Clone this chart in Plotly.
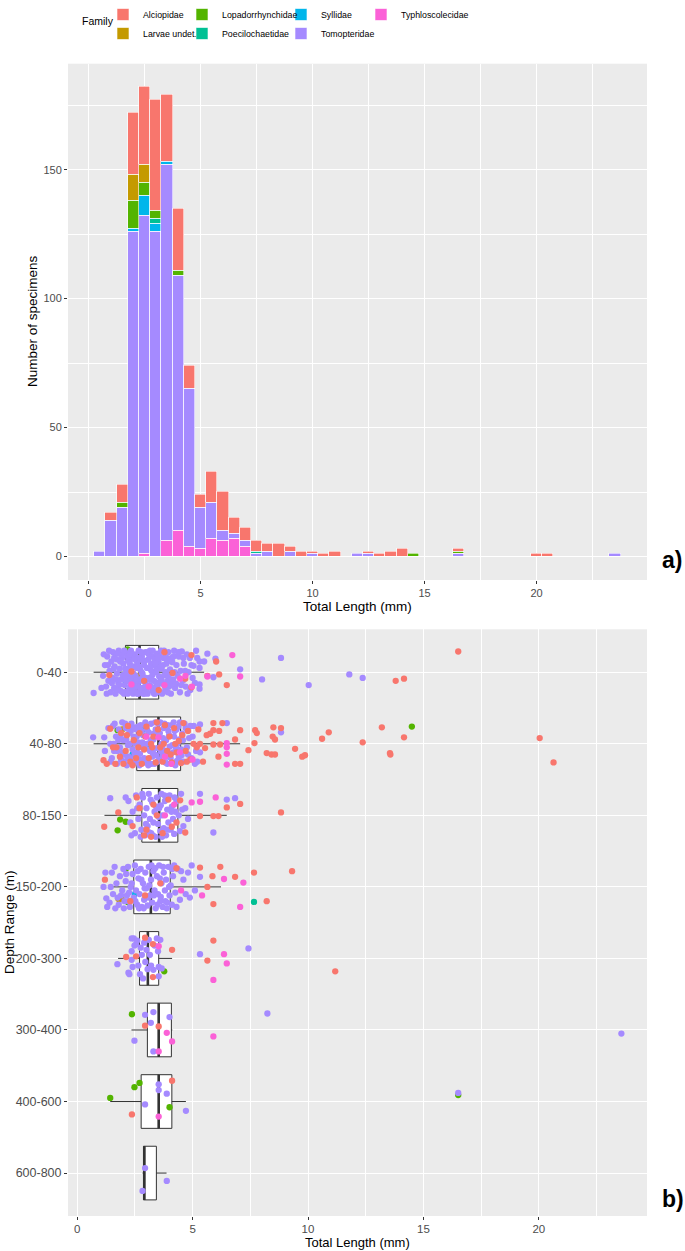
import plotly.graph_objects as go

FONT = "Liberation Sans, Arial, sans-serif"
W, H = 685, 1251

families = ["Alciopidae", "Larvae undet.", "Lopadorrhynchidae", "Poecilochaetidae",
            "Syllidae", "Tomopteridae", "Typhloscolecidae"]
colors = {"Alciopidae": "#F8766D", "Larvae undet.": "#C49A00", "Lopadorrhynchidae": "#53B400",
          "Poecilochaetidae": "#00C094", "Syllidae": "#00B6EB", "Tomopteridae": "#A58AFF",
          "Typhloscolecidae": "#FB61D7"}

# ---------------- panel a) histogram (bin width 0.5 mm) ----------------
bin_centers = [0.5, 1.0, 1.5, 2.0, 2.5, 3.0, 3.5, 4.0, 4.5, 5.0, 5.5, 6.0, 6.5, 7.0, 7.5, 8.0,
               8.5, 9.0, 9.5, 10.0, 10.5, 11.0, 12.0, 12.5, 13.0, 13.5, 14.0, 14.5, 16.5, 20.0, 20.5, 23.5]
cnt_alciopidae = [0, 3, 7, 24, 30, 43, 26, 24, 9, 5, 12, 15, 6, 5, 4, 3, 5, 2, 2, 1, 1, 2, 0, 1, 1, 2, 3, 0, 1, 1, 1, 0]
cnt_larvae = [0, 0, 0, 10, 7, 0, 0, 0, 0, 0, 0, 0, 0, 0, 0, 0, 0, 0, 0, 0, 0, 0, 0, 0, 0, 0, 0, 0, 0, 0, 0, 0]
cnt_lopadorrhynchidae = [0, 0, 2, 11, 5, 3, 0, 2, 0, 0, 0, 0, 0, 0, 0, 0, 0, 0, 0, 0, 0, 0, 0, 0, 0, 0, 0, 1, 1, 0, 0, 0]
cnt_poecilochaetidae = [0, 0, 0, 0, 0, 2, 0, 0, 0, 0, 0, 0, 0, 0, 1, 0, 0, 0, 0, 0, 0, 0, 0, 0, 0, 0, 0, 0, 0, 0, 0, 0]
cnt_syllidae = [0, 0, 0, 1, 8, 3, 1, 0, 0, 0, 0, 0, 0, 0, 0, 0, 0, 0, 0, 0, 0, 0, 0, 0, 0, 0, 0, 0, 0, 0, 0, 0]
cnt_tomopteridae = [2, 14, 19, 126, 131, 126, 146, 99, 61, 16, 14, 4, 2, 2, 1, 2, 0, 2, 0, 1, 0, 0, 1, 1, 0, 0, 0, 0, 1, 0, 0, 1]
cnt_typhloscolecidae = [0, 0, 0, 0, 1, 0, 6, 10, 4, 3, 7, 6, 7, 4, 0, 0, 0, 0, 0, 0, 0, 0, 0, 0, 0, 0, 0, 0, 0, 0, 0, 0]
bin_width = 0.5

counts = {"Alciopidae": cnt_alciopidae, "Larvae undet.": cnt_larvae,
          "Lopadorrhynchidae": cnt_lopadorrhynchidae, "Poecilochaetidae": cnt_poecilochaetidae,
          "Syllidae": cnt_syllidae, "Tomopteridae": cnt_tomopteridae,
          "Typhloscolecidae": cnt_typhloscolecidae}

# ---------------- panel b) box plot + jittered points ----------------
depth_labels = ["0-40", "40-80", "80-150", "150-200", "200-300", "300-400", "400-600", "600-800"]
box_q1 = [2.09, 2.58, 2.80, 2.45, 2.70, 3.04, 2.77, 2.87]
box_median = [2.70, 3.52, 3.55, 3.19, 3.06, 3.53, 3.53, 2.91]
box_q3 = [3.53, 4.48, 4.36, 4.03, 3.53, 4.08, 4.10, 3.43]
box_low = [0.71, 0.71, 1.18, 1.43, 1.77, 2.35, 1.43, 2.83]
box_high = [5.50, 7.06, 6.48, 6.23, 4.11, 4.12, 4.71, 3.87]

# points: (depth row, total length mm, vertical jitter in row units)
pts_tomopteridae = [
    # 0-40
    (0, 0.71, 0.29), (0, 1.12, 0.05), (0, 1.2, -0.1), (0, 1.25, 0.2), (0, 1.3, -0.22), (0, 1.35, 0.12),
    (0, 1.4, -0.02), (0, 1.45, 0.28), (0, 1.48, -0.15), (0, 1.52, 0.08), (0, 1.55, -0.28), (0, 1.6, 0.22),
    (0, 1.62, -0.08), (0, 1.66, 0.3), (0, 1.7, -0.18), (0, 1.72, 0.02), (0, 1.78, 0.15), (0, 1.8, -0.3),
    (0, 1.84, -0.05), (0, 1.88, 0.26), (0, 1.9, 0.1), (0, 1.94, -0.2), (0, 1.98, 0.04), (0, 2.0, -0.12),
    (0, 2.03, 0.3), (0, 2.06, 0.18), (0, 2.1, -0.27), (0, 2.12, 0.0), (0, 2.16, 0.12), (0, 2.2, -0.16),
    (0, 2.22, 0.25), (0, 2.26, -0.05), (0, 2.3, 0.2), (0, 2.33, -0.3), (0, 2.36, 0.08), (0, 2.4, -0.2),
    (0, 2.42, 0.3), (0, 2.45, -0.08), (0, 2.48, 0.15), (0, 2.5, -0.25), (0, 2.53, 0.05), (0, 2.56, 0.28),
    (0, 2.6, -0.14), (0, 2.62, 0.18), (0, 2.66, -0.3), (0, 2.7, 0.1), (0, 2.72, -0.04), (0, 2.76, 0.24),
    (0, 2.8, -0.22), (0, 2.83, 0.02), (0, 2.86, 0.3), (0, 2.9, -0.1), (0, 2.93, 0.14), (0, 2.96, -0.28),
    (0, 2.99, 0.22), (0, 3.02, -0.06), (0, 3.05, 0.3), (0, 3.08, -0.18), (0, 3.12, 0.08), (0, 3.15, -0.3),
    (0, 3.18, 0.2), (0, 3.22, -0.02), (0, 3.25, 0.26), (0, 3.28, -0.22), (0, 3.32, 0.12), (0, 3.35, -0.1),
    (0, 3.38, 0.3), (0, 3.42, 0.0), (0, 3.45, -0.26), (0, 3.48, 0.18), (0, 3.52, -0.15), (0, 3.55, 0.06),
    (0, 3.6, 0.28), (0, 3.63, -0.3), (0, 3.66, -0.05), (0, 3.7, 0.16), (0, 3.74, -0.2), (0, 3.78, 0.04),
    (0, 3.82, 0.25), (0, 3.86, -0.12), (0, 3.9, 0.12), (0, 3.95, -0.28), (0, 3.98, 0.2), (0, 4.02, -0.04),
    (0, 4.06, 0.3), (0, 4.1, -0.2), (0, 4.15, 0.1), (0, 4.2, -0.3), (0, 4.24, 0.22), (0, 4.3, -0.1),
    (0, 4.35, 0.05), (0, 4.4, -0.22), (0, 4.45, 0.28), (0, 4.48, -0.02), (0, 4.53, -0.29), (0, 4.58, 0.12),
    (0, 4.62, -0.12), (0, 4.7, 0.2), (0, 4.75, -0.25), (0, 4.82, 0.0), (0, 4.9, 0.25), (0, 4.95, -0.1),
    (0, 5.04, -0.09), (0, 5.1, 0.15), (0, 5.2, -0.2), (0, 5.3, -0.15), (0, 5.3, -0.06), (0, 5.3, 0.23),
    (0, 5.3, 0.17), (0, 5.5, -0.15), (0, 5.64, -0.26), (0, 5.99, -0.19), (0, 5.9, 0.07), (0, 7.06, -0.04),
    (0, 8.01, 0.1), (0, 8.83, -0.2), (0, 10.03, 0.18), (0, 11.79, 0.03), (0, 12.37, 0.08),
    (0, 1.82, 0.18), (0, 1.92, -0.25), (0, 2.02, 0.1), (0, 2.08, -0.05), (0, 2.14, 0.27), (0, 2.18, -0.22),
    (0, 2.24, 0.05), (0, 2.28, -0.12), (0, 2.34, 0.16), (0, 2.38, -0.25), (0, 2.44, 0.02), (0, 2.52, 0.2),
    (0, 2.58, -0.06), (0, 2.64, 0.3), (0, 2.68, -0.2), (0, 2.74, 0.12), (0, 2.78, -0.28), (0, 2.84, 0.06),
    (0, 2.88, 0.22), (0, 2.94, -0.16), (0, 3.0, 0.28), (0, 3.04, 0.1), (0, 3.1, -0.25), (0, 3.14, 0.18),
    (0, 3.2, -0.12), (0, 3.26, 0.04), (0, 3.3, 0.22), (0, 3.36, -0.18), (0, 3.4, 0.14), (0, 3.46, -0.05),
    (0, 3.5, 0.27), (0, 3.58, -0.22), (0, 3.64, 0.1), (0, 3.72, -0.1), (0, 3.8, 0.2), (0, 3.88, -0.2),
    (0, 3.96, 0.05), (0, 4.04, 0.18), (0, 4.12, -0.14), (0, 4.22, 0.0),
    (0, 1.15, -0.25), (0, 1.28, 0.3), (0, 1.38, -0.3), (0, 1.5, 0.15), (0, 1.58, -0.05), (0, 1.68, 0.1),
    (0, 1.75, -0.26), (0, 1.86, -0.15), (0, 1.96, 0.28), (0, 2.04, -0.3), (0, 2.1, 0.06), (0, 2.19, 0.3),
    (0, 2.27, -0.25), (0, 2.32, -0.08), (0, 2.4, 0.22), (0, 2.47, -0.18), (0, 2.55, 0.12), (0, 2.6, 0.3),
    (0, 2.67, -0.08), (0, 2.73, 0.22), (0, 2.79, 0.0), (0, 2.85, -0.16), (0, 2.91, 0.3), (0, 2.97, 0.08),
    (0, 3.03, -0.28), (0, 3.09, 0.2), (0, 3.16, -0.05), (0, 3.21, 0.1), (0, 3.27, -0.3), (0, 3.33, 0.3),
    (0, 3.39, -0.12), (0, 3.44, 0.22), (0, 3.5, -0.2), (0, 3.56, 0.15), (0, 3.62, -0.08), (0, 3.68, 0.3),
    (0, 3.76, -0.3), (0, 3.84, 0.0), (0, 3.92, 0.28), (0, 4.0, -0.16), (0, 4.08, 0.12), (0, 4.18, -0.22),
    (0, 4.28, 0.16), (0, 4.38, -0.28), (0, 4.5, 0.18), (0, 4.6, -0.2), (0, 4.68, -0.02), (0, 4.78, 0.3),
    (0, 4.88, -0.2), (0, 5.0, 0.08), (0, 5.15, -0.3), (0, 1.33, -0.1), (0, 1.05, 0.22), (0, 1.6, -0.2),
    (0, 1.74, 0.25),
    # 40-80
    (1, 0.69, -0.09), (1, 1.17, -0.09), (1, 1.43, 0.0), (1, 1.5, 0.2), (1, 1.55, -0.25), (1, 1.6, 0.1),
    (1, 1.68, -0.1), (1, 1.72, 0.28), (1, 1.8, -0.2), (1, 1.85, 0.05), (1, 1.9, 0.22), (1, 1.95, -0.3),
    (1, 2.0, -0.05), (1, 2.05, 0.15), (1, 2.1, -0.22), (1, 2.15, 0.3), (1, 2.2, 0.02), (1, 2.25, -0.15),
    (1, 2.3, 0.2), (1, 2.35, -0.28), (1, 2.4, 0.08), (1, 2.45, -0.1), (1, 2.5, 0.26), (1, 2.55, -0.2),
    (1, 2.6, 0.12), (1, 2.65, -0.02), (1, 2.7, 0.3), (1, 2.75, -0.26), (1, 2.8, 0.05), (1, 2.85, -0.12),
    (1, 2.9, 0.2), (1, 2.95, -0.3), (1, 3.0, 0.0), (1, 3.05, 0.24), (1, 3.1, -0.16), (1, 3.15, 0.1),
    (1, 3.2, -0.28), (1, 3.25, 0.18), (1, 3.3, -0.06), (1, 3.35, 0.28), (1, 3.4, -0.2), (1, 3.45, 0.06),
    (1, 3.5, -0.12), (1, 3.55, 0.22), (1, 3.6, -0.3), (1, 3.65, 0.0), (1, 3.7, 0.16), (1, 3.75, -0.22),
    (1, 3.8, 0.1), (1, 3.85, -0.05), (1, 3.9, 0.28), (1, 3.95, -0.18), (1, 4.0, 0.04), (1, 4.05, 0.2),
    (1, 4.1, -0.26), (1, 4.15, 0.12), (1, 4.2, -0.1), (1, 4.25, 0.3), (1, 4.3, -0.2), (1, 4.35, 0.0),
    (1, 4.4, 0.18), (1, 4.45, -0.3), (1, 4.5, 0.08), (1, 4.55, -0.14), (1, 4.6, 0.25), (1, 4.7, -0.22),
    (1, 4.75, 0.05), (1, 4.85, -0.08), (1, 4.95, 0.2), (1, 5.05, -0.25), (1, 5.15, 0.1), (1, 5.32, -0.27),
    (1, 5.32, 0.12), (1, 6.48, -0.29), (1, 8.83, -0.16),
    (1, 1.62, -0.28), (1, 1.75, 0.1), (1, 1.88, -0.12), (1, 2.02, 0.25), (1, 2.12, -0.06), (1, 2.22, 0.18),
    (1, 2.32, -0.18), (1, 2.42, 0.28), (1, 2.52, 0.0), (1, 2.62, -0.24), (1, 2.72, 0.14), (1, 2.82, -0.02),
    (1, 2.92, 0.26), (1, 3.02, -0.2), (1, 3.12, 0.08), (1, 3.22, 0.28), (1, 3.32, -0.14), (1, 3.42, 0.16),
    (1, 3.52, -0.28), (1, 3.62, 0.1), (1, 3.72, -0.08), (1, 3.82, 0.26), (1, 3.92, -0.26), (1, 4.02, 0.14),
    (1, 4.12, 0.02), (1, 4.22, -0.18), (1, 4.32, 0.24), (1, 4.42, -0.06), (1, 4.52, 0.16), (1, 4.65, -0.28),
    (1, 4.8, 0.15), (1, 5.0, -0.1), (1, 5.2, 0.25),
    (1, 1.2, 0.1), (1, 1.35, -0.22), (1, 1.45, 0.25), (1, 1.58, 0.0), (1, 1.78, -0.05), (1, 1.98, 0.12),
    (1, 2.08, -0.28), (1, 2.18, 0.2), (1, 2.28, 0.0), (1, 2.38, -0.24), (1, 2.48, 0.14), (1, 2.58, -0.1),
    (1, 2.68, 0.22), (1, 2.78, -0.18), (1, 2.88, 0.05), (1, 2.98, -0.25), (1, 3.08, 0.3), (1, 3.18, -0.05),
    (1, 3.28, 0.12), (1, 3.38, -0.3), (1, 3.48, 0.25), (1, 3.58, -0.15), (1, 3.68, 0.05), (1, 3.78, -0.28),
    (1, 3.88, 0.18), (1, 3.98, -0.12), (1, 4.08, 0.28), (1, 4.18, -0.3), (1, 4.28, 0.06), (1, 4.38, -0.24),
    (1, 4.48, 0.25), (1, 4.58, -0.05), (1, 4.9, -0.25), (1, 5.1, 0.28),
    # 80-150
    (2, 1.43, -0.24), (2, 2.22, -0.2), (2, 2.3, 0.1), (2, 2.4, -0.05), (2, 2.5, 0.25), (2, 2.55, -0.28),
    (2, 2.65, 0.05), (2, 2.7, -0.15), (2, 2.78, 0.2), (2, 2.85, -0.25), (2, 2.9, 0.0), (2, 2.95, 0.28),
    (2, 3.0, -0.1), (2, 3.05, 0.15), (2, 3.1, -0.3), (2, 3.15, 0.05), (2, 3.2, 0.25), (2, 3.25, -0.18),
    (2, 3.3, 0.1), (2, 3.35, -0.05), (2, 3.4, 0.3), (2, 3.45, -0.25), (2, 3.5, 0.12), (2, 3.55, -0.1),
    (2, 3.6, 0.22), (2, 3.65, -0.3), (2, 3.7, 0.0), (2, 3.75, 0.18), (2, 3.8, -0.2), (2, 3.85, 0.28),
    (2, 3.9, -0.08), (2, 3.95, 0.1), (2, 4.0, -0.28), (2, 4.05, 0.2), (2, 4.1, -0.12), (2, 4.15, 0.05),
    (2, 4.2, 0.26), (2, 4.3, -0.2), (2, 4.4, 0.0), (2, 4.5, -0.3), (2, 4.6, 0.15), (2, 4.68, -0.1),
    (2, 4.8, 0.05), (2, 5.32, -0.3), (2, 5.9, 0.24), (2, 6.48, -0.22), (2, 6.84, -0.24), (2, 2.1, -0.25),
    (2, 3.12, 0.24), (2, 3.62, -0.14), (2, 4.25, -0.05),
    (2, 2.35, 0.28), (2, 2.6, -0.1), (2, 2.75, 0.3), (2, 2.82, -0.3), (2, 2.98, 0.12), (2, 3.18, -0.22),
    (2, 3.28, 0.28), (2, 3.42, -0.12), (2, 3.52, 0.02), (2, 3.68, 0.3), (2, 3.78, -0.28), (2, 3.92, 0.2),
    (2, 4.08, -0.05), (2, 4.22, -0.25), (2, 4.45, 0.22), (2, 4.55, -0.08),
    # 150-200
    (3, 1.14, 0.0), (3, 1.26, 0.16), (3, 1.3, 0.28), (3, 1.4, 0.22), (3, 1.5, -0.2), (3, 1.55, 0.1),
    (3, 1.62, -0.28), (3, 1.7, -0.05), (3, 1.8, 0.25), (3, 1.85, -0.15), (3, 1.95, 0.05), (3, 2.0, -0.25),
    (3, 2.05, 0.2), (3, 2.1, -0.08), (3, 2.15, 0.12), (3, 2.2, -0.28), (3, 2.28, 0.28), (3, 2.32, 0.0),
    (3, 2.4, -0.18), (3, 2.45, 0.15), (3, 2.5, -0.3), (3, 2.55, 0.05), (3, 2.6, 0.25), (3, 2.65, -0.12),
    (3, 2.7, 0.1), (3, 2.75, -0.25), (3, 2.8, 0.28), (3, 2.85, -0.05), (3, 2.9, 0.18), (3, 2.95, -0.2),
    (3, 3.0, 0.02), (3, 3.05, 0.26), (3, 3.1, -0.28), (3, 3.15, 0.12), (3, 3.2, -0.1), (3, 3.25, 0.22),
    (3, 3.3, -0.22), (3, 3.35, 0.05), (3, 3.4, 0.3), (3, 3.45, -0.15), (3, 3.5, 0.1), (3, 3.55, -0.3),
    (3, 3.6, 0.2), (3, 3.65, -0.05), (3, 3.7, 0.28), (3, 3.75, -0.2), (3, 3.8, 0.05), (3, 3.85, -0.1),
    (3, 3.9, 0.22), (3, 3.95, -0.28), (3, 4.0, 0.12), (3, 4.05, -0.02), (3, 4.1, 0.25), (3, 4.15, -0.15),
    (3, 4.25, 0.08), (3, 4.35, -0.25), (3, 4.45, 0.18), (3, 4.6, -0.1), (3, 4.88, 0.15), (3, 4.96, -0.3),
    (3, 5.32, -0.14), (3, 5.1, 0.05), (3, 2.25, 0.08), (3, 2.62, -0.22), (3, 2.88, 0.3), (3, 3.12, -0.02),
    (3, 3.38, -0.26), (3, 3.62, 0.14), (3, 3.88, 0.3), (3, 1.9, 0.12), (3, 4.2, -0.3),
    (3, 1.22, -0.2), (3, 1.45, 0.0), (3, 1.65, 0.3), (3, 1.75, 0.15), (3, 2.02, 0.3), (3, 2.12, -0.18),
    (3, 2.22, 0.2), (3, 2.36, -0.05), (3, 2.52, 0.2), (3, 2.68, 0.3), (3, 2.78, -0.1), (3, 2.92, 0.02),
    (3, 3.08, 0.15), (3, 3.22, -0.3), (3, 3.32, 0.12), (3, 3.48, 0.25), (3, 3.58, -0.12), (3, 3.72, -0.28),
    (3, 3.82, 0.2), (3, 3.98, 0.0), (3, 4.12, -0.25), (3, 4.3, 0.28), (3, 4.5, -0.22), (3, 4.7, 0.1),
    (3, 4.8, -0.2),
    # 200-300
    (4, 1.74, 0.08), (4, 2.22, 0.2), (4, 2.26, 0.22), (4, 2.36, -0.28), (4, 2.45, -0.28), (4, 2.36, -0.1),
    (4, 2.36, 0.02), (4, 2.4, 0.12), (4, 2.55, -0.2), (4, 2.6, -0.25), (4, 2.65, 0.1), (4, 2.75, -0.15),
    (4, 2.8, -0.05), (4, 2.85, 0.28), (4, 2.9, -0.22), (4, 2.95, 0.05), (4, 3.0, -0.12), (4, 3.05, 0.15),
    (4, 3.1, -0.26), (4, 3.15, -0.05), (4, 3.2, 0.1), (4, 3.3, 0.16), (4, 3.35, -0.18), (4, 3.45, -0.28),
    (4, 3.5, -0.1), (4, 3.53, 0.12), (4, 3.53, 0.25), (4, 3.66, 0.14), (4, 3.6, -0.26), (4, 5.32, -0.06),
    (4, 7.42, -0.14), (4, 2.48, -0.18), (4, 2.72, 0.22),
    # 300-400
    (5, 2.94, -0.21), (5, 3.3, -0.25), (5, 3.19, -0.1), (5, 2.48, 0.15), (5, 3.3, 0.3), (5, 4.0, -0.18),
    (5, 8.24, -0.23), (5, 23.58, 0.05),
    # 400-600
    (6, 3.53, -0.24), (6, 3.53, -0.16), (6, 3.88, -0.11), (6, 2.94, 0.04), (6, 4.71, 0.13), (6, 16.51, -0.12),
    # 600-800
    (7, 2.94, -0.07), (7, 3.88, 0.11), (7, 2.83, 0.25),
]
pts_alciopidae = [
    (0, 1.39, 0.04), (0, 2.35, -0.01), (0, 3.53, 0.25), (0, 3.78, -0.28), (0, 4.13, 0.01), (0, 4.95, -0.24),
    (0, 4.95, 0.21), (0, 5.64, 0.05), (0, 6.02, -0.15), (0, 6.15, 0.03), (0, 6.48, 0.18), (0, 4.68, 0.09),
    (0, 2.9, 0.12), (0, 13.8, 0.12), (0, 14.16, 0.09), (0, 16.51, -0.29),
    (1, 1.14, 0.23), (1, 1.28, 0.28), (1, 1.43, -0.21), (1, 1.65, 0.28), (1, 1.7, 0.05), (1, 1.9, -0.15),
    (1, 2.0, 0.28), (1, 2.1, 0.1), (1, 2.2, -0.25), (1, 2.3, 0.25), (1, 2.45, -0.05), (1, 2.55, 0.2),
    (1, 2.7, -0.15), (1, 2.8, 0.28), (1, 2.9, 0.08), (1, 3.0, -0.24), (1, 3.1, 0.2), (1, 3.2, 0.0),
    (1, 3.3, -0.1), (1, 3.4, 0.26), (1, 3.5, -0.2), (1, 3.6, 0.05), (1, 3.7, 0.25), (1, 3.8, -0.26),
    (1, 3.9, 0.1), (1, 4.0, -0.1), (1, 4.1, 0.26), (1, 4.2, -0.22), (1, 4.3, 0.12), (1, 4.4, -0.04),
    (1, 4.5, 0.27), (1, 4.6, -0.29), (1, 4.7, 0.1), (1, 4.8, -0.18), (1, 4.9, 0.22), (1, 5.04, 0.0),
    (1, 5.18, 0.05), (1, 5.32, 0.0), (1, 5.54, 0.06), (1, 5.61, -0.12), (1, 5.76, -0.14), (1, 5.9, -0.19),
    (1, 5.9, 0.01), (1, 5.9, -0.29), (1, 6.12, 0.18), (1, 6.15, -0.18), (1, 6.19, 0.01), (1, 6.29, -0.29),
    (1, 6.84, -0.06), (1, 6.84, 0.28), (1, 7.06, -0.19), (1, 7.06, 0.28), (1, 7.42, 0.09), (1, 7.68, -0.01),
    (1, 7.71, -0.19), (1, 7.78, -0.15), (1, 8.21, 0.13), (1, 8.42, 0.15), (1, 8.47, -0.1), (1, 8.5, -0.23),
    (1, 8.57, -0.06), (1, 8.57, 0.15), (1, 8.83, -0.22), (1, 9.44, 0.07), (1, 9.75, 0.18), (1, 9.87, 0.16),
    (1, 10.61, -0.07), (1, 10.9, -0.16), (1, 12.37, -0.02), (1, 13.2, -0.23), (1, 13.55, 0.13),
    (1, 13.57, 0.15), (1, 14.16, -0.09), (1, 20.04, -0.08), (1, 20.64, 0.26),
    (1, 1.55, 0.05), (1, 1.85, 0.18), (1, 2.15, -0.12), (1, 2.4, 0.3), (1, 2.65, 0.05), (1, 2.95, -0.1),
    (1, 3.25, 0.05), (1, 3.45, -0.3), (1, 3.75, 0.0), (1, 4.05, 0.15), (1, 4.25, 0.0), (1, 4.55, -0.12),
    (1, 4.75, 0.25), (1, 5.25, -0.2), (1, 5.45, 0.25),
    (2, 1.17, 0.16), (2, 1.78, -0.04), (2, 2.58, -0.25), (2, 7.06, -0.16), (2, 6.48, -0.11), (2, 6.12, 0.01),
    (2, 5.9, 0.01), (2, 5.32, 0.01), (2, 8.83, -0.04), (2, 4.68, 0.24), (2, 4.46, -0.21), (2, 4.1, 0.16),
    (2, 3.0, 0.2), (2, 3.3, -0.15), (2, 3.7, 0.25), (2, 2.9, 0.28), (2, 2.4, 0.15), (2, 3.95, -0.22),
    (2, 4.3, 0.1), (2, 3.45, 0.0), (2, 2.7, -0.1), (2, 3.2, 0.3),
    (3, 5.32, -0.27), (3, 5.86, -0.15), (3, 6.2, -0.28), (3, 6.84, -0.14), (3, 7.66, -0.2), (3, 9.31, -0.22),
    (3, 5.64, 0.0), (3, 2.94, 0.12), (3, 5.9, 0.24), (3, 8.21, 0.2), (3, 1.2, -0.1), (3, 4.3, -0.26),
    (3, 3.6, -0.05), (3, 2.3, 0.2),
    (4, 2.12, -0.02), (4, 2.55, -0.03), (4, 2.94, -0.29), (4, 3.28, -0.2), (4, 3.28, 0.26), (4, 4.11, -0.12),
    (4, 5.9, -0.25), (4, 5.64, 0.03), (4, 11.18, 0.18),
    (5, 2.94, -0.06), (5, 3.53, -0.05),
    (6, 4.11, -0.29), (6, 2.37, 0.18),
]
pts_typhloscolecidae = [
    (0, 2.35, 0.17), (0, 3.78, 0.18), (0, 4.46, 0.09), (0, 4.97, 0.2), (0, 5.64, 0.06), (0, 6.72, -0.24),
    (0, 7.06, 0.06), (0, 4.69, 0.05), (0, 3.1, 0.2),
    (1, 3.52, -0.09), (1, 4.08, 0.28), (1, 6.48, 0.29), (1, 6.48, 0.05), (1, 6.48, 0.14), (1, 6.48, -0.01),
    (1, 3.0, -0.1), (1, 4.45, 0.12), (1, 5.0, 0.22), (1, 3.8, 0.18),
    (2, 4.96, -0.18), (2, 5.32, -0.19), (2, 6.0, -0.25), (2, 3.8, 0.0), (2, 4.2, -0.15),
    (3, 6.36, -0.11), (3, 7.2, -0.06), (3, 5.41, 0.12), (3, 7.06, 0.28), (3, 4.5, 0.05),
    (4, 3.53, -0.17), (4, 6.36, -0.06), (4, 6.48, 0.07), (4, 5.9, 0.3),
    (5, 3.88, 0.04), (5, 4.11, 0.16), (5, 3.53, 0.3), (5, 5.9, 0.09),
    (6, 3.53, 0.21),
]
pts_lopadorrhynchidae = [
    (0, 2.18, -0.32), (0, 2.6, 0.25),
    (1, 1.75, -0.19), (1, 2.65, 0.28), (1, 14.5, -0.24),
    (2, 1.75, 0.21), (2, 1.86, 0.06), (2, 2.1, 0.09),
    (3, 2.19, 0.21), (3, 2.1, -0.25),
    (4, 3.77, 0.18),
    (5, 2.37, -0.22),
    (6, 1.43, -0.05), (6, 2.48, -0.2), (6, 2.7, -0.26), (6, 4.0, 0.08), (6, 16.51, -0.09),
]
pts_larvae = [(0, 2.6, 0.05), (1, 2.37, 0.0), (1, 1.95, -0.2), (3, 1.79, 0.17), (3, 1.93, 0.17)]
pts_syllidae = [(0, 2.1, 0.12), (1, 2.4, 0.15), (1, 2.9, -0.2), (3, 2.5, 0.1)]
pts_poecilochaetidae = [(1, 3.1, 0.0), (3, 7.66, 0.21)]

points = {"Alciopidae": pts_alciopidae, "Larvae undet.": pts_larvae,
          "Lopadorrhynchidae": pts_lopadorrhynchidae, "Poecilochaetidae": pts_poecilochaetidae,
          "Syllidae": pts_syllidae, "Tomopteridae": pts_tomopteridae,
          "Typhloscolecidae": pts_typhloscolecidae}

# ---------------- figure ----------------
fig = go.Figure()

legend_of = {"Alciopidae": "legend", "Larvae undet.": "legend",
             "Lopadorrhynchidae": "legend2", "Poecilochaetidae": "legend2",
             "Syllidae": "legend3", "Tomopteridae": "legend3", "Typhloscolecidae": "legend4"}
rank = {f: i + 1 for i, f in enumerate(families)}

# stacking order bottom -> top (ggplot puts first factor level on top)
for fam in reversed(families):
    vals = [c if c > 0 else None for c in counts[fam]]
    fig.add_trace(go.Bar(
        x=bin_centers, y=vals, width=bin_width, name=fam,
        marker=dict(color=colors[fam], line=dict(color="white", width=0.6)),
        legend=legend_of[fam], legendrank=rank[fam], xaxis="x", yaxis="y",
        hoverinfo="skip"))

# boxes
fig.add_trace(go.Box(
    y=list(range(len(depth_labels))), q1=box_q1, median=box_median, q3=box_q3,
    lowerfence=box_low, upperfence=box_high, orientation="h", width=0.75,
    fillcolor="white", line=dict(color="#333333", width=1), whiskerwidth=0,
    boxpoints=False, showlegend=False, xaxis="x2", yaxis="y2", hoverinfo="skip"))

# thick median lines
mx, my = [], []
for i, m in enumerate(box_median):
    mx += [m, m, None]
    my += [i - 0.375, i + 0.375, None]
fig.add_trace(go.Scatter(x=mx, y=my, mode="lines", line=dict(color="#333333", width=2.6),
                         showlegend=False, xaxis="x2", yaxis="y2", hoverinfo="skip"))

draw_order = ["Lopadorrhynchidae", "Larvae undet.", "Syllidae", "Poecilochaetidae",
              "Tomopteridae", "Alciopidae", "Typhloscolecidae"]
for fam in draw_order:
    pts = points[fam]
    fig.add_trace(go.Scatter(
        x=[p[1] for p in pts], y=[p[0] + p[2] for p in pts], mode="markers",
        marker=dict(color=colors[fam], size=6.3, line=dict(width=0)),
        showlegend=False, xaxis="x2", yaxis="y2", hoverinfo="skip"))


def px_x(p):
    return p / W


def px_y(p):
    return 1 - p / H


def axis_style(size):
    return dict(showline=False, zeroline=False, ticks="outside", ticklen=3, tickwidth=1,
                tickcolor="#333333", showgrid=True, gridcolor="white", gridwidth=1.1,
                tickfont=dict(family=FONT, size=size, color="#4D4D4D"))


minor_grid = dict(showgrid=True, gridcolor="white", gridwidth=0.55)

dom_x = [px_x(68), px_x(647)]
fig.update_layout(
    width=W, height=H, margin=dict(l=0, r=0, t=0, b=0, autoexpand=False),
    paper_bgcolor="white", plot_bgcolor="#EBEBEB", barmode="stack", bargap=0,
    font=dict(family=FONT, color="black"),
    xaxis=dict(domain=dom_x, range=[-0.92, 24.93], tickmode="linear", tick0=0, dtick=5, anchor="y",
               minor=dict(dtick=2.5, **minor_grid), **axis_style(11)),
    yaxis=dict(domain=[px_y(580), px_y(63.7)], range=[-9.1, 191.1], tickmode="linear", tick0=0,
               dtick=50, anchor="x", minor=dict(dtick=25, **minor_grid), **axis_style(11)),
    xaxis2=dict(domain=dom_x, range=[-0.40, 24.69], tickmode="linear", tick0=0, dtick=5, anchor="y2",
                minor=dict(dtick=2.5, **minor_grid), ticklabelstandoff=-1, **axis_style(11.5)),
    yaxis2=dict(domain=[px_y(1216), px_y(629.3)], range=[7.6, -0.6], tickmode="array",
                tickvals=list(range(len(depth_labels))), ticktext=depth_labels, anchor="x2",
                **axis_style(12.5)),
)

leg_common = dict(orientation="v", xref="container", yref="container", xanchor="left",
                  yanchor="top", bgcolor="rgba(0,0,0,0)", borderwidth=0,
                  font=dict(family=FONT, size=8.8, color="black"), tracegroupgap=0,
                  traceorder="normal")
leg_y = 1 + 7 / H
fig.update_layout(
    legend=dict(x=px_x(103), y=leg_y, **leg_common),
    legend2=dict(x=px_x(182), y=leg_y, **leg_common),
    legend3=dict(x=px_x(281), y=leg_y, **leg_common),
    legend4=dict(x=px_x(361), y=leg_y, **leg_common),
)

ann = [
    dict(text="Family", x=px_x(98), y=px_y(21), xref="paper", yref="paper", showarrow=False,
         font=dict(size=10.5, family=FONT), xanchor="center", yanchor="middle"),
    dict(text="Number of specimens", x=px_x(33), y=px_y(321), xref="paper", yref="paper",
         showarrow=False, textangle=-90, font=dict(size=13.5, family=FONT), xanchor="center",
         yanchor="middle"),
    dict(text="Total Length (mm)", x=px_x(357), y=px_y(606), xref="paper", yref="paper",
         showarrow=False, font=dict(size=13.5, family=FONT), xanchor="center", yanchor="middle"),
    dict(text="Depth Range (m)", x=px_x(9), y=px_y(922), xref="paper", yref="paper",
         showarrow=False, textangle=-90, font=dict(size=13.5, family=FONT), xanchor="center",
         yanchor="middle"),
    dict(text="Total Length (mm)", x=px_x(357), y=px_y(1242), xref="paper", yref="paper",
         showarrow=False, font=dict(size=13, family=FONT), xanchor="center", yanchor="middle"),
    dict(text="<b>a)</b>", x=px_x(672), y=px_y(560), xref="paper", yref="paper", showarrow=False,
         font=dict(size=23, family=FONT), xanchor="center", yanchor="middle"),
    dict(text="<b>b)</b>", x=px_x(673), y=px_y(1199), xref="paper", yref="paper", showarrow=False,
         font=dict(size=23, family=FONT), xanchor="center", yanchor="middle"),
]
fig.update_layout(annotations=ann)

fig.write_html("out.html", config={"displayModeBar": False},
               post_script="document.body.style.margin='0px';")
